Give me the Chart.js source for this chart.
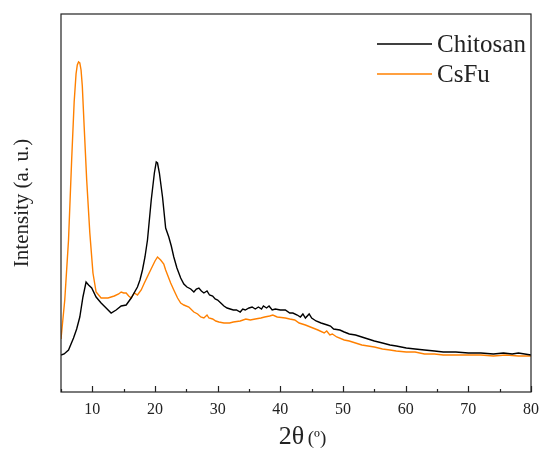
<!DOCTYPE html>
<html><head><meta charset="utf-8">
<script src="https://cdn.jsdelivr.net/npm/chart.js@4"></script>
<style>html,body{margin:0;padding:0;background:#fff}#wrap{width:547px;height:449px}</style>
</head><body><div id="wrap"><canvas id="c" width="547" height="449"></canvas></div>
<script>
const seriesNames = ["Chitosan", "CsFu"];
const chitosanX = [5,5.5,6.2,7,7.5,8,8.5,9,9.4,9.9,10.6,11.4,12.2,13,13.8,14.6,15.4,16.2,17.2,17.6,18,18.4,18.8,19.4,19.9,20.2,20.4,20.7,21.2,21.7,22.2,22.6,23,23.5,24.1,24.6,25.1,25.7,26.2,26.6,27,27.4,27.8,28.3,28.7,29.2,29.6,30,30.5,31,31.5,32,32.5,33,33.6,34,34.4,35,35.5,36,36.5,37,37.3,37.8,38.2,38.7,39.2,40,40.8,41.5,42,42.7,43.2,43.6,44,44.6,45,45.7,46.5,47.5,48,48.5,49.5,50.2,51,52,53,54,55,56.3,57.5,58.5,60.1,61.5,63,64.6,66,68,70,72,74,75.6,77,78,80];
const chitosanY = [37,38,42,54,63,75,95,110,107,104,95,89,84,79,82,86,87,94,105,112,122,135,152,192,219,230,229,219,195,164,155,146,135,124,114,108,105,103,100,103,104,101,99,101,97,96,93,92,89,86,84,83,82,82,80,83,82,84,85,83,85,83,86,84,86,82,83,82,82,79,79,77,75,78,74,78,74,71,69,67,66,63,62,60,58,57,55,53,51,49,47,46,44,43,42,41,40,40,39,39,38,39,38,39,37];
const csfuX = [5,5.6,6.2,6.7,7.1,7.4,7.6,7.8,8,8.2,8.4,8.7,9.1,9.6,10.1,10.6,11.4,12.5,13.5,14.2,14.6,15,15.4,15.8,16.2,16.7,17.2,17.8,18.3,19.3,20,20.4,20.9,21.4,21.7,22.5,23,23.6,24.1,24.6,25.4,26.2,26.8,27.3,27.8,28.3,28.6,29.2,29.7,30.2,31,31.9,32.5,33.6,34.5,35.2,36,36.9,37.5,38.3,38.8,39.5,40.8,41.5,42.3,43,44,45.2,46,47,47.4,47.9,48.3,49,50.2,51,52,53,54,55,56.3,57.5,58.5,60.1,61.5,63,64.6,66,68,70.1,72,74,76,78,80];
const csfuY = [53,92,152,232,290,318,327,330,329,322,306,265,212,159,119,100,94,94,96,98,100,99,99,96,94,99,97,102,109,122,131,135,132,128,122,109,102,94,89,87,85,80,78,75,74,77,74,73,71,70,69,69,70,71,73,72,73,74,75,76,77,75,74,73,72,69,67,64,62,59,61,57,58,55,52,51,49,47,46,45,43,42,41,40,40,38,38,37,37,37,37,36,37,36,36];
const xTickValues = [10,20,30,40,50,60,70,80];
const xTitleMain = "2θ";
const xTitleUnit = "(º)";
const yTitle = "Intensity (a. u.)";

const colors = ["#000000", "#FF8000"];
const SERIF = "'Liberation Serif','DejaVu Serif',serif";

const framePlugin = {
  id: 'frame',
  afterDatasetsDraw(chart) {
    const {ctx, chartArea: a, scales: {x}} = chart;
    ctx.save();
    ctx.strokeStyle = '#222';
    ctx.lineWidth = 1.2;
    ctx.strokeRect(a.left, a.top, a.right - a.left, a.bottom - a.top);
    for (let v = 5; v <= 80; v += 5) {
      const px = Math.round(x.getPixelForValue(v)) + 0.5;
      const len = (v % 10 === 0) ? 6 : 3;
      ctx.beginPath();
      ctx.moveTo(px, a.bottom);
      ctx.lineTo(px, a.bottom - len);
      ctx.stroke();
    }
    ctx.fillStyle = '#222';
    ctx.textBaseline = 'alphabetic';
    ctx.textAlign = 'left';
    const f1 = "26px " + SERIF, f2 = "19px " + SERIF;
    ctx.font = f1; const w1 = ctx.measureText(xTitleMain + " ").width;
    ctx.font = f2; const w2 = ctx.measureText(xTitleUnit).width;
    const cx = (a.left + a.right) / 2 + 8;
    let sx = cx - (w1 + w2) / 2;
    ctx.font = f1; ctx.fillText(xTitleMain, sx, 444);
    ctx.font = f2; ctx.fillText(xTitleUnit, sx + w1 - 3, 444);
    ctx.font = "25px " + SERIF;
    ctx.textBaseline = 'middle';
    chart.data.datasets.forEach((ds, i) => {
      const y = 44 + i * 30;
      ctx.strokeStyle = ds.borderColor;
      ctx.lineWidth = 1.4;
      ctx.beginPath();
      ctx.moveTo(377, y);
      ctx.lineTo(432, y);
      ctx.stroke();
      ctx.fillStyle = '#222';
      ctx.fillText(ds.label, 437, y + 1);
    });
    ctx.restore();
  }
};

new Chart(document.getElementById('c'), {
  type: 'line',
  data: {
    datasets: [
      {label: seriesNames[0], data: chitosanX.map((v, i) => ({x: v, y: chitosanY[i]})), borderColor: colors[0], borderWidth: 1.4, pointRadius: 0, tension: 0, fill: false},
      {label: seriesNames[1], data: csfuX.map((v, i) => ({x: v, y: csfuY[i]})), borderColor: colors[1], borderWidth: 1.4, pointRadius: 0, tension: 0, fill: false}
    ]
  },
  options: {
    responsive: false,
    animation: false,
    layout: {padding: {top: 14, right: 12, left: 0, bottom: 0}},
    plugins: {legend: {display: false}, tooltip: {enabled: false}},
    scales: {
      x: {
        type: 'linear', min: 5, max: 80,
        afterBuildTicks(s) { s.ticks = xTickValues.map(v => ({value: v})); },
        afterFit(s) { s.height = 57; },
        grid: {display: false, drawTicks: false},
        border: {display: false},
        ticks: {color: '#222', font: {family: SERIF, size: 16}, padding: 8, maxRotation: 0, autoSkip: false},
        title: {display: false}
      },
      y: {
        min: 0, max: 378,
        afterFit(s) { s.width = 61; },
        grid: {display: false, drawTicks: false},
        border: {display: false},
        ticks: {display: false},
        title: {display: true, text: yTitle, color: '#222', font: {family: SERIF, size: 21}, padding: {top: 10, bottom: 6}}
      }
    }
  },
  plugins: [framePlugin]
});
</script>
</body></html>
